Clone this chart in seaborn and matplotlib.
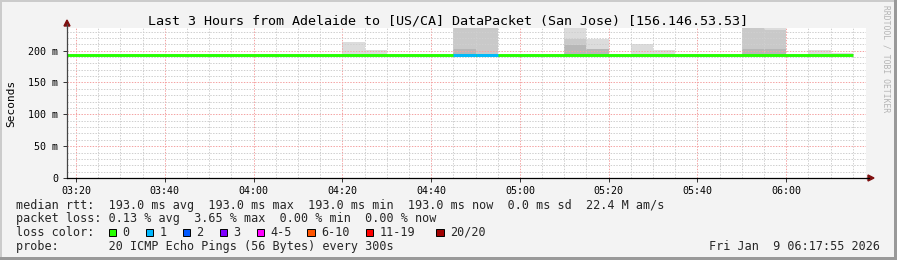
import matplotlib
matplotlib.use("Agg")
import matplotlib.pyplot as plt
import seaborn as sns
import numpy as np
import pandas as pd
from matplotlib.patches import Rectangle, Polygon
from matplotlib.lines import Line2D
from matplotlib.ticker import MultipleLocator, FuncFormatter

# ---------------- data ----------------
interval_start = ["03:15", "03:20", "03:25", "03:30", "03:35", "03:40", "03:45", "03:50",
                  "03:55", "04:00", "04:05", "04:10", "04:15", "04:20", "04:25", "04:30",
                  "04:35", "04:40", "04:45", "04:50", "04:55", "05:00", "05:05", "05:10",
                  "05:15", "05:20", "05:25", "05:30", "05:35", "05:40", "05:45", "05:50",
                  "05:55", "06:00", "06:05", "06:10"]
median_rtt = [193.0] * 36
loss_count = [0] * 18 + [1, 1] + [0] * 16
ping_min = [193.0] * 36
# smoke layers (ms): outer/lightest top, middle top, inner/darkest top
smoke_light = [193, 193, 193, 193, 193, 193, 193, 193, 193, 193, 193, 193, 193, 214, 201, 193,
               193, 193, 250, 250, 193, 193, 193, 250, 218, 193, 210, 200.5, 193, 193, 193, 250,
               250, 193, 200.5, 195.5]
smoke_mid = [193, 193, 193, 193, 193, 193, 193, 193, 193, 193, 193, 193, 193, 193, 193, 193,
             193, 193, 250, 250, 193, 193, 193, 219, 193, 193, 193, 193, 193, 193, 193, 250,
             233, 193, 193, 193]
smoke_dark = [193, 193, 193, 193, 193, 193, 193, 193, 193, 193, 193, 193, 193, 193, 193, 193,
              193, 193, 202, 193, 193, 193, 193, 209, 202, 193, 193, 193, 193, 193, 193, 202,
              202, 193, 193, 193]
x_tick_labels = ["03:20", "03:40", "04:00", "04:20", "04:40", "05:00", "05:20", "05:40", "06:00"]
loss_legend_labels = ["0", "1", "2", "3", "4-5", "6-10", "11-19", "20/20"]
loss_legend_colors = ["#26ff00", "#00b8ff", "#0059ff", "#7e00ff", "#ff00ff", "#ff5500", "#ff0000", "#a00000"]

title = "Last 3 Hours from Adelaide to [US/CA] DataPacket (San Jose) [156.146.53.53]"
line_rtt = "median rtt:  193.0 ms avg  193.0 ms max  193.0 ms min  193.0 ms now  0.0 ms sd  22.4 M am/s"
line_loss = "packet loss: 0.13 % avg  3.65 % max  0.00 % min  0.00 % now"
line_probe = "probe:       20 ICMP Echo Pings (56 Bytes) every 300s"
date_text = "Fri Jan  9 06:17:55 2026"


def to_min(s):
    h, m = s.split(":")
    return int(h) * 60 + int(m)


def loss_color(n):
    if n == 0:
        return loss_legend_colors[0]
    if n == 1:
        return loss_legend_colors[1]
    if n == 2:
        return loss_legend_colors[2]
    if n == 3:
        return loss_legend_colors[3]
    if n <= 5:
        return loss_legend_colors[4]
    if n <= 10:
        return loss_legend_colors[5]
    if n < 20:
        return loss_legend_colors[6]
    return loss_legend_colors[7]


# ---------------- style ----------------
sns.set_theme(style="white")
plt.rcParams["font.family"] = ["DejaVu Sans Mono", "DejaVu Sans"]

W, H = 897, 260
fig = plt.figure(figsize=(W / 100, H / 100), dpi=100, facecolor="#f3f3f3")


def fx(x):
    return x / W


def fy(y):
    return 1 - y / H


ax_l, ax_r, ax_t, ax_b = 67, 866, 28, 178
ax = fig.add_axes([fx(ax_l), fy(ax_b), (ax_r - ax_l) / W, (ax_b - ax_t) / H])
ax.set_facecolor("white")

starts = np.array([to_min(s) for s in interval_start], dtype=float)
step = 5.0

# smoke
ax.bar(starts, np.array(smoke_light) - np.array(ping_min), bottom=ping_min, width=step,
       align="edge", color="#dcdcdc", linewidth=0, zorder=1)
ax.bar(starts, np.array(smoke_mid) - np.array(ping_min), bottom=ping_min, width=step,
       align="edge", color="#c9c9c9", linewidth=0, zorder=1.1)
ax.bar(starts, np.array(smoke_dark) - np.array(ping_min), bottom=ping_min, width=step,
       align="edge", color="#b7b7b7", linewidth=0, zorder=1.2)

# median line (steps)
df = pd.DataFrame({"t": np.append(starts, starts[-1] + step),
                   "rtt": median_rtt + [median_rtt[-1]]})
sns.lineplot(data=df, x="t", y="rtt", drawstyle="steps-post", color=loss_legend_colors[0],
             linewidth=2.1, ax=ax, zorder=4, solid_capstyle="butt")
for s, m, n in zip(starts, median_rtt, loss_count):
    if n > 0:
        ax.hlines(m, s, s + step, color=loss_color(n), linewidth=2.1, zorder=4.5,
                  capstyle="butt")

# axes
x0 = to_min("03:20") - 2.03
ax.set_xlim(x0, x0 + 180)
ax.set_ylim(0, 235.5)
ax.xaxis.set_major_locator(MultipleLocator(20))
ax.xaxis.set_minor_locator(MultipleLocator(5))
ax.yaxis.set_major_locator(MultipleLocator(50))
ax.yaxis.set_minor_locator(MultipleLocator(10))
ax.xaxis.set_major_formatter(FuncFormatter(lambda v, p: "%02d:%02d" % (int(v) // 60, int(v) % 60)))
ax.yaxis.set_major_formatter(FuncFormatter(lambda v, p: "0" if v == 0 else "%d m" % v))
ax.set_xlabel("")
ax.set_ylabel("")

ax.set_axisbelow(False)
ax.grid(which="minor", color="#cfcfcf", linestyle=(0, (1.4, 1.4)), linewidth=0.72, zorder=2)
ax.grid(which="major", color="#f4a3a3", linestyle=(0, (1.4, 1.4)), linewidth=0.72, zorder=2.1)

for side in ["top", "right"]:
    ax.spines[side].set_visible(False)
ax.spines["left"].set_color("#454545")
ax.spines["bottom"].set_color("black")
for side in ["left", "bottom"]:
    ax.spines[side].set_linewidth(0.9)
    ax.spines[side].set_zorder(5)

ax.tick_params(axis="both", which="major", length=3, width=0.7, color="#333333",
               labelsize=7.2, labelcolor="black", direction="out")
ax.tick_params(axis="both", which="minor", length=1.5, width=0.6, color="#555555", direction="out")
ax.tick_params(axis="x", which="major", pad=2.5)
ax.tick_params(axis="y", which="major", pad=3.5)
ax.tick_params(axis="x", bottom=True)
ax.tick_params(axis="y", left=True)

# axis extensions and arrows
arrow_col = "#7f1010"
fig.add_artist(Line2D([fx(ax_r), fx(869)], [fy(ax_b), fy(ax_b)], color="black", lw=0.9))
fig.add_artist(Line2D([fx(ax_l), fx(ax_l)], [fy(ax_t), fy(24)], color="#454545", lw=0.9))
fig.add_artist(Polygon([[fx(874), fy(178)], [fx(868), fy(175)], [fx(868), fy(181)]],
                       closed=True, color=arrow_col, transform=fig.transFigure))
fig.add_artist(Polygon([[fx(67), fy(20)], [fx(64), fy(26)], [fx(70), fy(26)]],
                       closed=True, color=arrow_col, transform=fig.transFigure))

# texts
fig.text(fx(447.5), fy(24), title, ha="center", va="baseline", fontsize=9.6, color="black")
fig.text(fx(11), fy(103), "Seconds", rotation=90, ha="center", va="center", fontsize=8,
         color="black")
fig.text(fx(886), fy(59), "RRDTOOL / TOBI OETIKER", rotation=270, ha="center", va="center",
         fontsize=5.8, color="#b4b4b4")

legend_fs = 8.5
fig.text(fx(16), fy(208.5), line_rtt, ha="left", va="baseline", fontsize=legend_fs)
fig.text(fx(16), fy(222.2), line_loss, ha="left", va="baseline", fontsize=legend_fs)
fig.text(fx(16), fy(235.9), "loss color:", ha="left", va="baseline", fontsize=legend_fs)
fig.text(fx(16), fy(249.6), line_probe, ha="left", va="baseline", fontsize=legend_fs)
fig.text(fx(880), fy(249.6), date_text, ha="right", va="baseline", fontsize=legend_fs)

square_x = [108.5, 145.5, 182.5, 219.5, 256.5, 307, 365.5, 436]
for sx, lab, col in zip(square_x, loss_legend_labels, loss_legend_colors):
    fig.add_artist(Rectangle((fx(sx), fy(236.3)), 7.5 / W, 7.5 / H, facecolor=col,
                             edgecolor="black", linewidth=0.7, transform=fig.transFigure))
    fig.text(fx(sx + 14), fy(235.9), lab, ha="left", va="baseline", fontsize=legend_fs)

# frame
fig.add_artist(Rectangle((0, fy(2)), 1, 2 / H, facecolor="#cbcbcb", edgecolor="none",
                         transform=fig.transFigure))
fig.add_artist(Rectangle((0, 0), 2 / W, 1, facecolor="#cbcbcb", edgecolor="none",
                         transform=fig.transFigure))
fig.add_artist(Rectangle((0, 0), 1, 3 / H, facecolor="#999999", edgecolor="none",
                         transform=fig.transFigure))
fig.add_artist(Rectangle((fx(894), 0), 3 / W, 1, facecolor="#999999", edgecolor="none",
                         transform=fig.transFigure))

fig.savefig("out.png", dpi=100, facecolor=fig.get_facecolor())
